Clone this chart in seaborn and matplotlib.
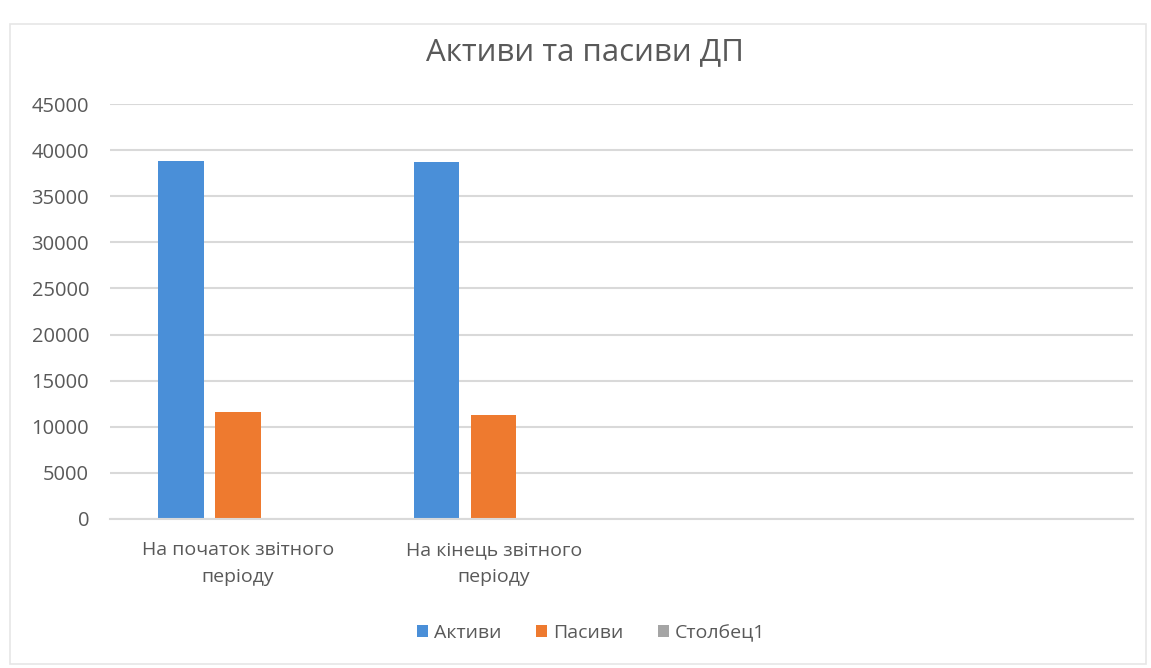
import matplotlib
matplotlib.use("Agg")
import matplotlib.pyplot as plt
from matplotlib.patches import Rectangle
import numpy as np
import pandas as pd
import seaborn as sns

# ---- data ----
categories = ["На початок звітного\nперіоду", "На кінець звітного\nперіоду", " ", "  "]
series = ["Активи", "Пасиви", "Столбец1"]
aktyvy = [38850, 38750, np.nan, np.nan]
pasyvy = [11550, 11250, np.nan, np.nan]
stovpets1 = [np.nan, np.nan, np.nan, np.nan]
yticks = [0, 5000, 10000, 15000, 20000, 25000, 30000, 35000, 40000, 45000]
title = "Активи та пасиви ДП"

colors = ["#4A8FD8", "#EE7A2F", "#A5A5A5"]
text_color = "#595959"
grid_color = "#D9D9D9"

rows = []
for name, vals in zip(series, [aktyvy, pasyvy, stovpets1]):
    for c, v in zip(categories, vals):
        rows.append({"category": c, "series": name, "value": v})
df = pd.DataFrame(rows)

sns.set_theme(style="white")
plt.rcParams["font.family"] = ["Open Sans", "DejaVu Sans"]

fig = plt.figure(figsize=(11.51, 6.68), dpi=100)
ax = fig.add_axes([110 / 1151, 1 - 519 / 668, (1133 - 110) / 1151, (519 - 104) / 668])

sns.barplot(data=df, x="category", y="value", hue="series",
            order=categories, hue_order=series, palette=colors,
            width=0.668, gap=0.2, errorbar=None, ax=ax, legend=False,
            saturation=1, linewidth=0, edgecolor="none")

ax.set_ylim(0, 45000)
ax.set_xlim(-0.5, len(categories) - 0.5)
ax.set_yticks(yticks)
ax.set_yticklabels([str(t) for t in yticks])
ax.yaxis.grid(True, color=grid_color, linewidth=1.5)
ax.set_axisbelow(True)
for s in ["top", "right", "left"]:
    ax.spines[s].set_visible(False)
ax.spines["bottom"].set_color(grid_color)
ax.spines["bottom"].set_linewidth(1.5)
ax.set_xlabel("")
ax.set_ylabel("")
ax.tick_params(axis="y", length=0, pad=15, labelsize=14.5, labelcolor=text_color)
ax.tick_params(axis="x", length=0, pad=16, labelsize=14, labelcolor=text_color)
for lbl in ax.get_xticklabels():
    lbl.set_linespacing(1.65)
    lbl.set_horizontalalignment("center")

fig.text(585 / 1151, 1 - 52 / 668, title, ha="center", va="center",
         fontsize=22.5, color=text_color)

handles = [Rectangle((0, 0), 1, 1, facecolor=c, edgecolor="none") for c in colors]
fig.legend(handles, series, loc="center", bbox_to_anchor=(591 / 1151, 1 - 633 / 668),
           ncol=3, frameon=False, fontsize=14, labelcolor=text_color,
           handlelength=0.55, handleheight=0.55, handletextpad=0.3, columnspacing=1.8)

# chart area border
fig.patches.append(Rectangle((10 / 1151, 4 / 668), 1136 / 1151, 640 / 668,
                             transform=fig.transFigure, fill=False,
                             edgecolor="#E6E6E6", linewidth=1.2))

fig.savefig("out.png", dpi=100, facecolor="white")
